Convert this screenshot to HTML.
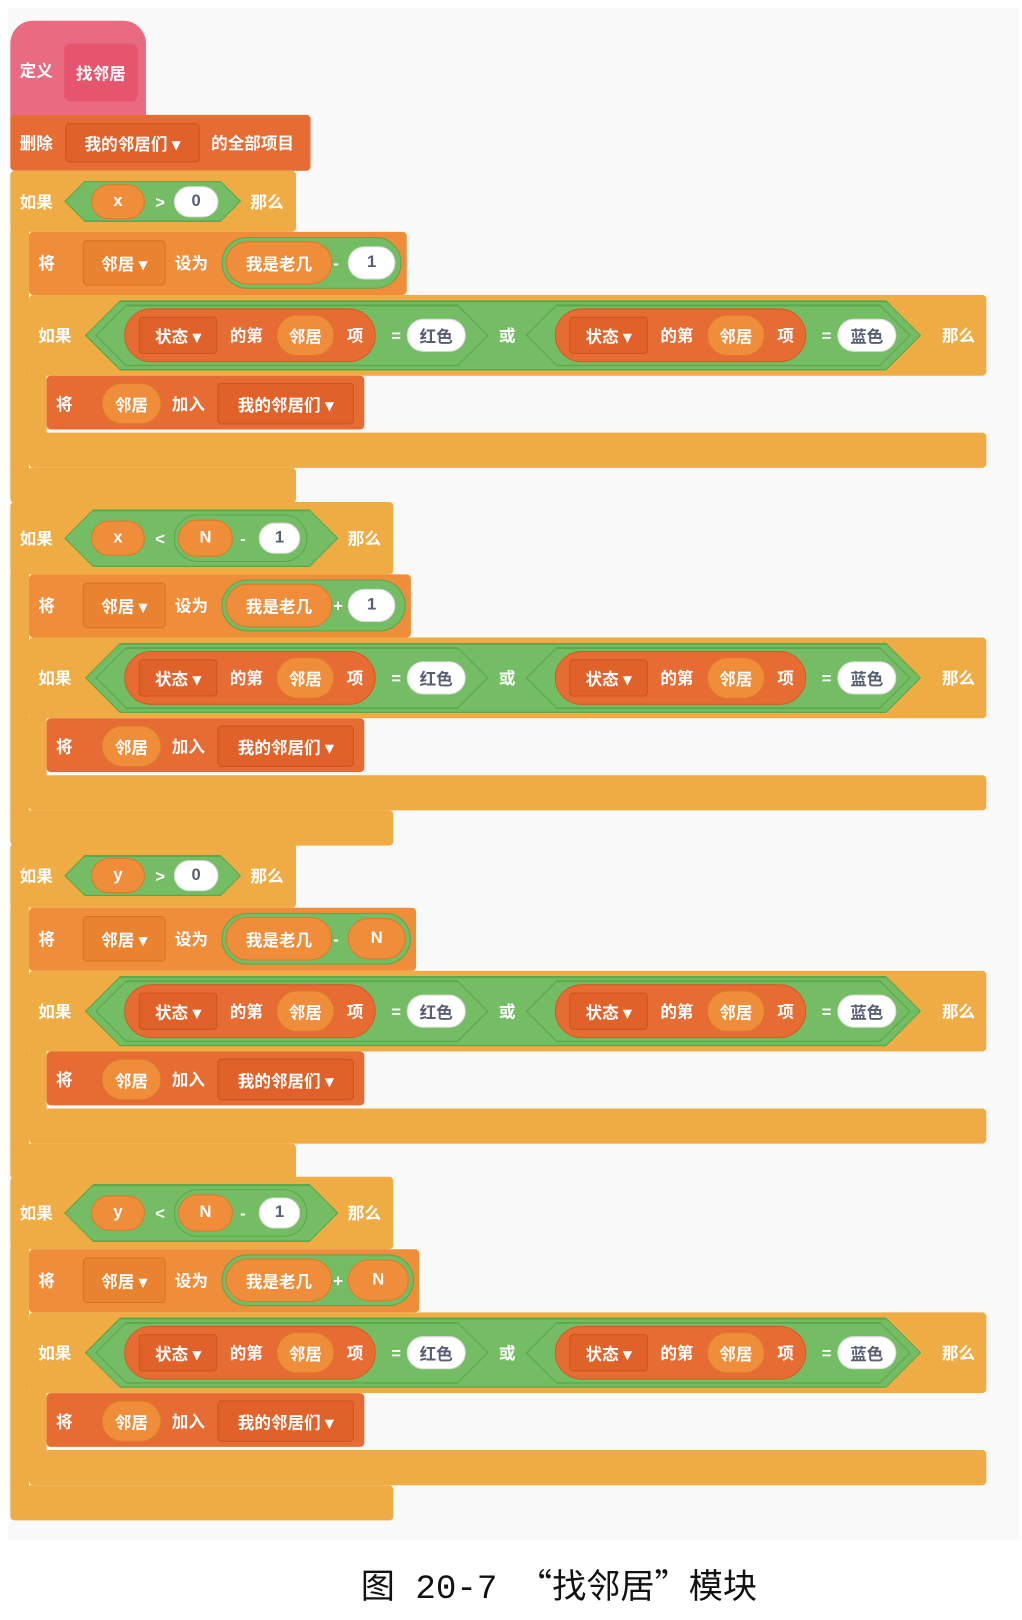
<!DOCTYPE html>
<html><head><meta charset="utf-8">
<style>
html,body{margin:0;padding:0;background:#fff;}
#outer{position:relative;width:1022px;height:1620px;overflow:hidden;}
#stage{position:absolute;left:0;top:0;width:988px;height:1566px;transform:scale(1.035);transform-origin:0 0;font-family:"Liberation Sans","Noto Sans CJK SC",sans-serif;}
.b{position:absolute;box-sizing:border-box;}
.t{position:absolute;color:#fff;font-weight:bold;font-size:16px;line-height:20px;white-space:nowrap;transform:translateY(-40%);}
.c{display:flex;align-items:center;justify-content:center;color:#fff;font-weight:bold;font-size:16px;white-space:nowrap;}
</style></head>
<body>
<div id="outer">
<div id="stage">
<div class="b" style="left:8px;top:8px;width:977px;height:1480px;background:#f9f9f9;"></div>
<div class="b" style="left:10px;top:20px;width:131px;height:95px;background:#e96b82;border-radius:22px 22px 0 0;"></div>
<div class="t" style="left:19px;top:68px;">定义</div>
<div class="b c" style="left:62px;top:42px;width:71px;height:56px;background:#e5566e;border-radius:6px;">找邻居</div>
<div class="b" style="left:10px;top:111px;width:290px;height:54px;background:#e76c33;border-radius:4px;"></div>
<div class="t" style="left:19px;top:138px;">删除</div>
<div class="b c" style="left:63px;top:119px;width:130px;height:38px;background:#e0622a;border:1px solid #c9551f;border-radius:4px;">我的邻居们 ▾</div>
<div class="t" style="left:204px;top:138px;">的全部项目</div>
<div class="b" style="left:330px;top:1508px;width:420px;height:44px;text-align:center;font-family:'Liberation Mono','Noto Sans CJK SC',monospace;font-size:33px;line-height:44px;color:#111;"><span style="font-family:'Noto Sans CJK SC',sans-serif;">图</span> 20-7 <span style="font-family:'Noto Sans CJK SC',sans-serif;">“找邻居”模块</span></div>
</div>
</div>
<script>
const groupTops=[165,485,815,1137];
const headerHeights=[59,70,62,70];
const varNames=['x','x','y','y'];
const compareOps=['>','<','>','<'];
const subtractN=[false,true,false,true];
const setOps=['-','+','-','+'];
const setRhs=['1','1','N','N'];
const outerWidths=[276,370,276,370];
const setWidths=[365,369,374,377];
const stage=document.getElementById('stage');
const Y='#efac44',OR='#ef8d3a',RD='#e76c33',GR='#74bd64',GRD='#5aa84a';
function box(x,y,w,h,css,name,text,inter){
  const el=document.createElement('div');
  el.className='b'+(text!==undefined?' c':'');
  el.style.cssText='left:'+x+'px;top:'+y+'px;width:'+w+'px;height:'+h+'px;'+css;
  if(text!==undefined) el.textContent=text;
  
  
  stage.appendChild(el);return el;
}
function txt(x,cy,s,name){
  const el=document.createElement('div');
  el.className='t';el.style.left=x+'px';el.style.top=cy+'px';el.textContent=s;
  
  
  stage.appendChild(el);return el;
}
function hex(x,cy,w,h,name){
  const p='polygon('+(h/2)+'px 0,'+(w-h/2)+'px 0,'+w+'px 50%,'+(w-h/2)+'px 100%,'+(h/2)+'px 100%,0 50%)';
  box(x,cy-h/2,w,h,'background:'+GRD+';clip-path:'+p+';',name+'-border',undefined,false);
  const pi='polygon('+((h-3)/2)+'px 0,'+(w-3-(h-3)/2)+'px 0,'+(w-3)+'px 50%,'+(w-3-(h-3)/2)+'px 100%,'+((h-3)/2)+'px 100%,0 50%)';
  box(x+1.5,cy-h/2+1.5,w-3,h-3,'background:'+GR+';clip-path:'+pi+';',name,undefined,true);
}
function oval(x,cy,w,h,bg,bd,name,s,color){
  return box(x,cy-h/2,w,h,'background:'+bg+';border:1px solid '+bd+';border-radius:'+(h/2)+'px;'+(color?'color:'+color+';':''),name,s,true);
}
function eqBlock(x0,cy,side){
  hex(x0,cy,x0===92?380:372,60,'inner-condition-'+side);
  oval(x0+28,cy,243,52,RD,'#d65a22','item-block-'+side);
  box(x0+42,cy-18,76,36,'background:#e0622a;border:1px solid #c9551f;border-radius:4px;','state-dropdown-'+side,'状态 ▾',true);
  txt(x0+130,cy,'的第','item-of-label-'+side);
  oval(x0+175,cy,56,40,OR,'#dc7a2a','neighbor-var-'+side,'邻居');
  txt(x0+243,cy,'项','item-label-'+side);
  txt(x0+286,cy,'=','equals-sign-'+side);
  oval(x0+301,cy,57,32,'#fff','#ddd','color-value-'+side,side==='left'?'红色':'蓝色','#575e75');
}
for(let g=0;g<4;g++){
  const T=groupTops[g],H=headerHeights[g];
  const setTop=T+H,ifTop=setTop+61,addTop=ifTop+78,inBot=addTop+55,outBot=inBot+34;
  const cy=T+H/2;
  box(10,T,outerWidths[g],H,'background:'+Y+';border-radius:4px;','if-block-'+(g+1),undefined,true);
  box(10,T+H-2,18,outBot-T-H+4,'background:'+Y+';','if-arm-'+(g+1),undefined,false);
  box(10,outBot,outerWidths[g],34,'background:'+Y+';border-radius:0 4px 4px 4px;','if-bottom-'+(g+1),undefined,false);
  txt(19,cy,'如果','if-label-'+(g+1));
  const hw=subtractN[g]?265:171, hh=subtractN[g]?56:40;
  hex(62,cy,hw,hh,'condition-'+(g+1));
  oval(88,cy,52,34,OR,'#dc7a2a','var-'+varNames[g],varNames[g]);
  txt(150,cy,compareOps[g],'compare-op');
  if(subtractN[g]){
    oval(168,cy,129,46,GR,GRD,'subtract-op');
    oval(172,cy,53,36,OR,'#dc7a2a','var-n','N');
    txt(232,cy,'-','minus-sign');
    oval(250,cy,40,30,'#fff','#ddd','number-1','1','#575e75');
  } else {
    oval(168,cy,43,30,'#fff','#ddd','number-0','0','#575e75');
  }
  txt(62+hw+9,cy,'那么','then-label');
  const sy=setTop+30;
  box(28,setTop,setWidths[g],61,'background:'+OR+';border-radius:4px;','set-block-'+(g+1),undefined,true);
  txt(37,sy,'将','set-label');
  box(80,sy-22,80,44,'background:#e9832f;border:1px solid #d67424;border-radius:4px;','neighbor-dropdown','邻居 ▾',true);
  txt(169,sy,'设为','set-to-label');
  const gw=setWidths[g]+28-214-5;
  oval(214,sy,gw,50,GR,GRD,'arith-op');
  oval(218,sy,103,42,OR,'#dc7a2a','my-index-var','我是老几');
  txt(322,sy,setOps[g],'arith-sign');
  if(setRhs[g]==='1') oval(336,sy,46,32,'#fff','#ddd','number-1','1','#575e75');
  else oval(336,sy,gw+214-336-5,40,OR,'#dc7a2a','var-n','N');
  const iy=ifTop+39;
  box(28,ifTop,925,78,'background:'+Y+';border-radius:4px;','inner-if-block-'+(g+1),undefined,true);
  box(28,ifTop+76,17,inBot-ifTop-74,'background:'+Y+';','inner-if-arm',undefined,false);
  box(28,inBot,925,34,'background:'+Y+';border-radius:0 4px 4px 4px;','inner-if-bottom',undefined,false);
  txt(37,iy,'如果','inner-if-label');
  hex(82,iy,808,68,'or-condition-'+(g+1));
  eqBlock(92,iy,'left');
  txt(482,iy,'或','or-label');
  eqBlock(508,iy,'right');
  txt(910,iy,'那么','inner-then-label');
  const ay=addTop+27;
  box(45,addTop,307,52,'background:'+RD+';border-radius:4px;','add-to-list-block-'+(g+1),undefined,true);
  txt(54,ay,'将','add-label');
  oval(98,ay,58,40,OR,'#dc7a2a','neighbor-var','邻居');
  txt(166,ay,'加入','add-to-label');
  box(210,ay-20,132,40,'background:#e0622a;border:1px solid #c9551f;border-radius:4px;','list-dropdown','我的邻居们 ▾',true);
}
</script>
</body></html>
